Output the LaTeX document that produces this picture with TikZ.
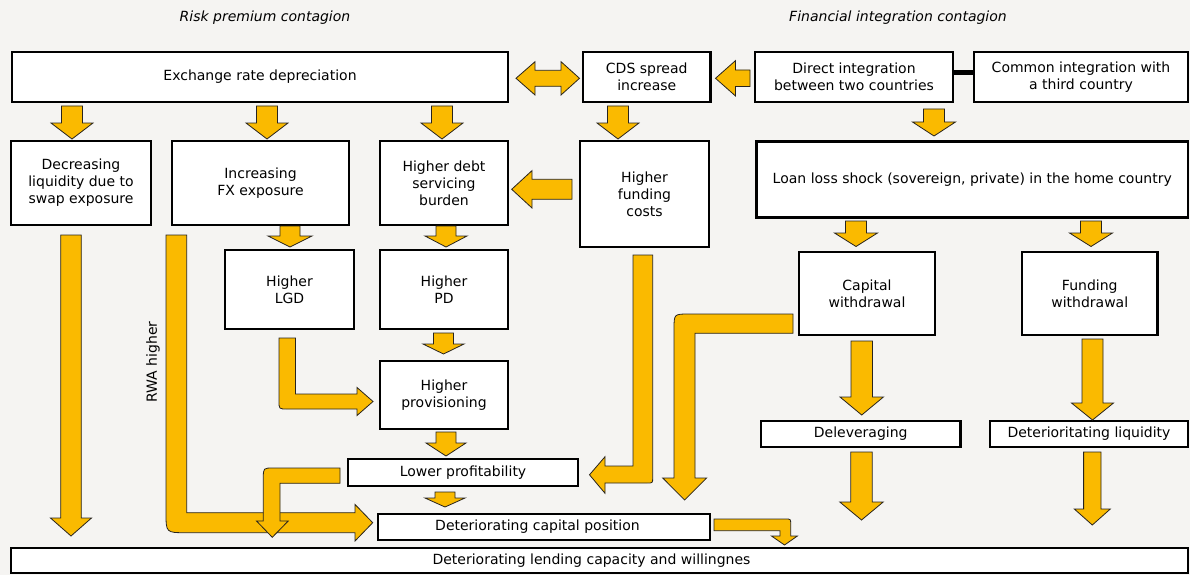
\documentclass[tikz,border=0pt]{standalone}
\usepackage{fontspec}
\setmainfont{DejaVu Sans}
\definecolor{bgpaper}{RGB}{245,244,242}
\definecolor{flowyellow}{RGB}{250,186,0}
\definecolor{flowedge}{RGB}{40,36,30}

% straight block arrows: pointing down / left
\newcommand\downblock[6]{% cx, ytop, yhead, ytip, shaft half width, head half width
  \path[blockarrow] ({#1-#5},#2) -- ({#1+#5},#2) -- ({#1+#5},#3) -- ({#1+#6},#3)
    -- (#1,#4) -- ({#1-#6},#3) -- ({#1-#5},#3) -- cycle;}
\newcommand\leftblock[6]{% cy, xtail, xhead, xtip, shaft half width, head half width
  \path[blockarrow] (#2,{#1-#5}) -- (#3,{#1-#5}) -- (#3,{#1-#6}) -- (#4,#1)
    -- (#3,{#1+#6}) -- (#3,{#1+#5}) -- (#2,{#1+#5}) -- cycle;}
% a framed box given by its corners
\newcommand\flowbox[6]{% name, x1, y1, x2, y2, text
  \node[box, minimum width={(#4-#2)*1pt}, minimum height={(#5-#3)*1pt}]
    (#1) at ({(#2+#4)/2},{(#3+#5)/2}) {#6};}

\begin{document}
\begin{tikzpicture}[x=1pt, y=-1pt,
  box/.style={draw=black, line width=2.6pt, fill=white, align=center,
    inner sep=0pt, font=\fontsize{14}{17}\selectfont},
  blockarrow/.style={fill=flowyellow, draw=flowedge, line width=0.8pt, line join=miter},
  heading/.style={font=\fontsize{14}{17}\selectfont\itshape}]

\useasboundingbox (0,0) rectangle (1190,575);
\fill[bgpaper] (0,0) rectangle (1190,575);

% headings
\node[heading] (hrisk) at (265,18) {Risk premium contagion};
\node[heading] (hfin) at (898,18) {Financial integration contagion};

% boxes
\flowbox{exch}{12}{52}{508}{102}{Exchange rate depreciation}
\flowbox{cds}{583}{52}{710.5}{102}{CDS spread\\increase}
\flowbox{direct}{755}{52}{953}{102}{Direct integration\\between two countries}
\flowbox{common}{974}{52}{1188}{102}{Common integration with\\a third country}
\flowbox{decliq}{11}{141}{151}{225}{Decreasing\\liquidity due to\\swap exposure}
\flowbox{fx}{172}{141}{349}{225}{Increasing\\FX exposure}
\flowbox{debt}{380}{141}{508}{225}{Higher debt\\servicing\\burden}
\flowbox{fund}{580}{141}{709}{247}{Higher\\funding\\costs}
\flowbox{loan}{756.5}{141.5}{1188}{217.5}{Loan loss shock (sovereign, private) in the home country}
\flowbox{lgd}{225}{250}{354}{329}{Higher\\LGD}
\flowbox{pd}{380}{250}{508}{329}{Higher\\PD}
\flowbox{capw}{799}{252}{935}{335}{Capital\\withdrawal}
\flowbox{fundw}{1022}{252}{1157.5}{335}{Funding\\withdrawal}
\flowbox{prov}{380}{361}{508}{429}{Higher\\provisioning}
\flowbox{delev}{761}{421}{960.5}{447}{Deleveraging}
\flowbox{liq}{990}{421}{1188}{447}{Deterioritating liquidity}
\flowbox{profit}{348}{459}{578}{486}{Lower profitability}
\flowbox{capital}{378}{514}{710}{540}{Deteriorating capital position\hspace*{13pt}}
\flowbox{lending}{11}{548}{1188}{573}{Deteriorating lending capacity and willingnes\hspace*{16pt}}

% link between the two integration channels
\draw[line width=5pt] ([yshift=4.3pt]direct.east) -- ([yshift=4.3pt]common.west);

% horizontal block arrows
\path[blockarrow] (516,78.3) -- (535,61.7) -- (535,70.3) -- (561,70.3) -- (561,61.7)
  -- (579.5,78.3) -- (561,95) -- (561,86.3) -- (535,86.3) -- (535,95) -- cycle;
\leftblock{78.3}{750}{735.5}{715.5}{8.3}{17.7}
\leftblock{189.3}{572}{532}{511.7}{10}{18.7}

% straight block arrows pointing down
\downblock{72}{106}{123}{139}{10.5}{21}
\downblock{267}{106}{123}{139}{10.5}{21}
\downblock{442}{106}{123}{139}{10.5}{21}
\downblock{618}{106}{123}{139}{10.5}{21}
\downblock{934}{109}{122}{136}{10.5}{21.5}
\downblock{290}{226}{236}{247}{10}{22}
\downblock{446}{226}{236}{247}{10}{21}
\downblock{443.5}{333}{344}{354}{10}{20.5}
\downblock{446}{432}{443}{456}{10}{20}
\downblock{445}{492}{498}{507}{10}{20}
\downblock{71}{235}{518}{536}{10.3}{20.5}
\downblock{856}{221}{233}{246.5}{10.5}{21.5}
\downblock{1091}{221}{233}{246.5}{10.5}{21.5}
\downblock{861.7}{341}{397}{415}{10.7}{21.7}
\downblock{1092.5}{339}{403}{420}{10.5}{21}
\downblock{861.5}{452}{502}{520}{10.7}{21.7}
\downblock{1092.3}{452}{509}{525}{8.7}{18}

% bent block arrows
\path[blockarrow] (186.7,235) -- (166,235) -- (166,512.7) .. controls (166,532.7) .. (186,532.7)
  -- (355,532.7) -- (355,541) -- (372.7,522.7) -- (355,504.4) -- (355,512.7) -- (186.7,512.7) -- cycle;
\path[blockarrow] (295.5,338) -- (279,338) -- (279,401) .. controls (279,409) .. (287,409)
  -- (357,409) -- (357,415.5) -- (373,401.5) -- (357,387.5) -- (357,394) -- (295.5,394) -- cycle;
\path[blockarrow] (340,468) -- (273.3,468) .. controls (263.3,468) .. (263.3,478) -- (263.3,521)
  -- (256.5,521) -- (272.3,537.3) -- (288.2,521) -- (280,521) -- (280,483.3) -- (340,483.3) -- cycle;
\path[blockarrow] (633,255) -- (652.7,255) -- (652.7,477.5) .. controls (652.7,483) .. (647.2,483)
  -- (605,483) -- (605,493.3) -- (589.5,474.8) -- (605,456.7) -- (605,466) -- (633,466) -- cycle;
\path[blockarrow] (793,314) -- (689,314) .. controls (674,314) .. (674,329) -- (674,478)
  -- (662.7,478) -- (684.6,500) -- (706.6,478) -- (695,478) -- (695,333.3) -- (793,333.3) -- cycle;
\path[blockarrow] (714,519) -- (785.5,519) .. controls (790.7,519) .. (790.7,524.2) -- (790.7,536)
  -- (797.4,536) -- (784.5,545) -- (771.5,536) -- (780,536) -- (780,530.7) -- (714,530.7) -- cycle;

% label along the risk-weighted assets arrow
\node[rotate=90, font=\fontsize{14}{17}\selectfont] (rwa) at (153,362) {RWA higher};

\end{tikzpicture}
\end{document}
